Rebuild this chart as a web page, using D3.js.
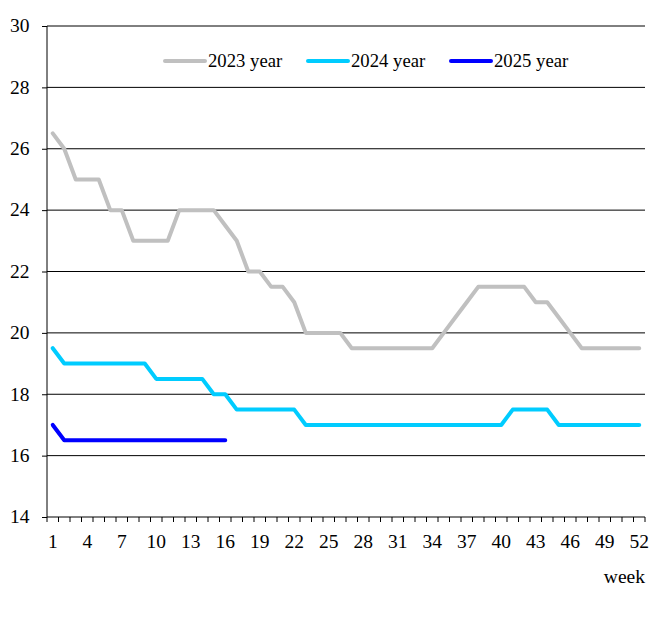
<!DOCTYPE html>
<head>
<style>
  body { margin: 0; background: #fff; }
  text { font-family: "Liberation Serif", "Times New Roman", serif; }
</style>
</head>

<body>
    <svg id="container" height="625" width="668"></svg>
</body>

<script src="https://d3js.org/d3.v7.min.js"></script>
<script>

    let weeks = d3.range(1, 53)
    let weekLabels = d3.range(1, 53, 3)
    let yTicks = [14, 16, 18, 20, 22, 24, 26, 28, 30]

    let y2023 = [26.5, 26, 25, 25, 25, 24, 24, 23, 23, 23,
                 23, 24, 24, 24, 24, 23.5, 23, 22, 22, 21.5,
                 21.5, 21, 20, 20, 20, 20, 19.5, 19.5, 19.5, 19.5,
                 19.5, 19.5, 19.5, 19.5, 20, 20.5, 21, 21.5, 21.5, 21.5,
                 21.5, 21.5, 21, 21, 20.5, 20, 19.5, 19.5, 19.5, 19.5,
                 19.5, 19.5]
    let y2024 = [19.5, 19, 19, 19, 19, 19, 19, 19, 19, 18.5,
                 18.5, 18.5, 18.5, 18.5, 18, 18, 17.5, 17.5, 17.5, 17.5,
                 17.5, 17.5, 17, 17, 17, 17, 17, 17, 17, 17,
                 17, 17, 17, 17, 17, 17, 17, 17, 17, 17,
                 17.5, 17.5, 17.5, 17.5, 17, 17, 17, 17, 17, 17,
                 17, 17]
    let y2025 = [17, 16.5, 16.5, 16.5, 16.5, 16.5, 16.5, 16.5, 16.5, 16.5,
                 16.5, 16.5, 16.5, 16.5, 16.5, 16.5]

    let series = [
        {name: "2023 year", values: y2023, color: "#c0c0c0"},
        {name: "2024 year", values: y2024, color: "#00ccff"},
        {name: "2025 year", values: y2025, color: "#0000ff"}
    ]

    let svg = d3.select("#container")
    let plotLeft = 47, plotRight = 645, plotTop = 26, plotBottom = 517

    let x = d3.scaleBand().domain(weeks).range([plotLeft, plotRight])
    let y = d3.scaleLinear().domain([14, 30]).range([plotBottom, plotTop])

    // gridlines
    svg.append("g")
        .selectAll("line")
        .data(yTicks.filter(d => d > 14))
        .enter()
        .append("line")
        .attr("x1", plotLeft).attr("x2", plotRight)
        .attr("y1", d => y(d)).attr("y2", d => y(d))
        .attr("stroke", "#000").attr("stroke-width", 1)

    // y axis
    let yAxis = svg.append("g")
        .attr("transform", `translate(${plotLeft},0)`)
        .call(d3.axisLeft(y).tickValues(yTicks).tickSize(5).tickPadding(12.5))
    yAxis.attr("font-family", "Liberation Serif")
    yAxis.select(".domain").attr("d", `M0,${plotTop}V${plotBottom}`)
    yAxis.selectAll("text").attr("font-size", 19.5).attr("fill", "#000")
        .attr("dy", "0.3em")

    // x axis: ticks between categories
    let xAxis = svg.append("g")
        .attr("transform", `translate(0,${plotBottom})`)
    xAxis.append("line")
        .attr("x1", plotLeft).attr("x2", plotRight)
        .attr("stroke", "#000")
    xAxis.selectAll(".tk")
        .data(weeks.concat([53]))
        .enter()
        .append("line")
        .attr("class", "tk")
        .attr("x1", d => d == 53 ? plotRight : x(d))
        .attr("x2", d => d == 53 ? plotRight : x(d))
        .attr("y1", 0).attr("y2", 5)
        .attr("stroke", "#000")
    xAxis.selectAll("text")
        .data(weekLabels)
        .enter()
        .append("text")
        .attr("x", d => x(d) + x.bandwidth() / 2)
        .attr("y", 31)
        .attr("text-anchor", "middle")
        .attr("font-size", 19.5)
        .text(d => d)

    svg.append("text")
        .attr("x", plotRight).attr("y", 583)
        .attr("text-anchor", "end")
        .attr("font-size", 19.5)
        .text("week")

    // lines
    let line = d3.line()
        .x((d, i) => x(weeks[i]) + x.bandwidth() / 2)
        .y(d => y(d))

    svg.selectAll(".series")
        .data(series)
        .enter()
        .append("path")
        .attr("class", "series")
        .attr("d", d => line(d.values))
        .attr("fill", "none")
        .attr("stroke", d => d.color)
        .attr("stroke-width", 4)
        .attr("stroke-linecap", "round")
        .attr("stroke-linejoin", "round")

    // legend
    let legend = svg.append("g").attr("transform", "translate(165,61)")
    let item = legend.selectAll("g")
        .data(series)
        .enter()
        .append("g")
        .attr("transform", (d, i) => `translate(${i * 143},0)`)
    item.append("line")
        .attr("x1", 0).attr("x2", 40)
        .attr("stroke", d => d.color)
        .attr("stroke-width", 4)
        .attr("stroke-linecap", "round")
    item.append("text")
        .attr("x", 43).attr("y", 5.5)
        .attr("font-size", 18.7)
        .text(d => d.name)

</script>
